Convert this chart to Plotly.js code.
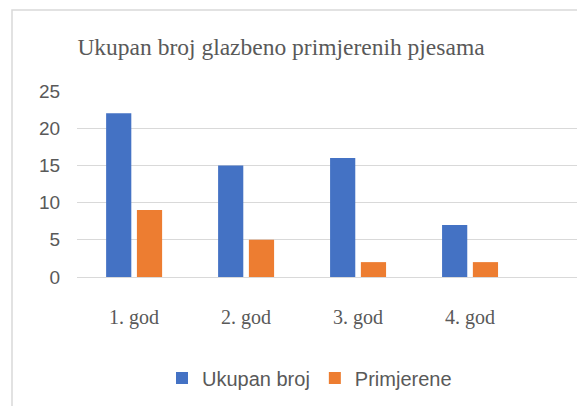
<!DOCTYPE html>
<html>
<head>
<meta charset="utf-8">
<script src="https://cdn.plot.ly/plotly-3.0.1.min.js"></script>
<style>
html,body{margin:0;padding:0;background:#fff;}
#chart{width:577px;height:406px;}
</style>
</head>
<body>
<div id="chart"></div>
<script>
const categories = ["1. god", "2. god", "3. god", "4. god"];
const ukupanBroj = [22, 15, 16, 7];
const primjerene = [9, 5, 2, 2];
const seriesNames = ["Ukupan broj", "Primjerene"];
const yTicks = [0, 5, 10, 15, 20, 25];

const grey = "#595959";
const traces = [
  {
    type: "bar", name: seriesNames[0], x: categories, y: ukupanBroj,
    marker: {color: "#4472C4"}, width: 0.225, offset: -0.25
  },
  {
    type: "bar", name: seriesNames[1], x: categories, y: primjerene,
    marker: {color: "#ED7D31"}, width: 0.225, offset: 0.025
  }
];

const layout = {
  width: 577, height: 406,
  margin: {l: 77, r: 0, t: 91, b: 129},
  paper_bgcolor: "#ffffff", plot_bgcolor: "#ffffff",
  showlegend: true,
  title: {
    text: "Ukupan broj glazbeno primjerenih pjesama",
    font: {family: "Liberation Serif, Times New Roman, serif", size: 23.5, color: grey},
    x: 0.487, xref: "container", xanchor: "center",
    y: 0.884, yref: "container", yanchor: "middle"
  },
  xaxis: {
    type: "category",
    range: [-0.51, 3.955],
    showgrid: false, zeroline: false, showline: false,
    ticks: "outside", ticklen: 22, tickcolor: "rgba(0,0,0,0)",
    tickfont: {family: "Liberation Serif, Times New Roman, serif", size: 20, color: grey},
    fixedrange: true
  },
  yaxis: {
    range: [0, 25],
    tickvals: yTicks,
    showgrid: true, gridcolor: "#d9d9d9", gridwidth: 1,
    zeroline: true, zerolinecolor: "#d9d9d9", zerolinewidth: 1,
    showline: false,
    ticks: "outside", ticklen: 12, tickcolor: "rgba(0,0,0,0)",
    tickfont: {family: "Liberation Sans, Arial, sans-serif", size: 19, color: grey},
    fixedrange: true
  },
  legend: {
    orientation: "h",
    x: 0.465, xanchor: "center",
    y: -0.543, yanchor: "middle",
    font: {family: "Liberation Sans, Arial, sans-serif", size: 20, color: grey},
    itemwidth: 30,
    bgcolor: "rgba(0,0,0,0)"
  },
  shapes: [
    {
      type: "rect", xref: "paper", yref: "paper",
      x0: -0.13, x1: 1.2, y0: -2, y1: 1.435,
      line: {color: "#d9d9d9", width: 1.5}, fillcolor: "rgba(0,0,0,0)",
      layer: "below"
    }
  ]
};

Plotly.newPlot("chart", traces, layout, {displayModeBar: false, staticPlot: true});
</script>
</body>
</html>
